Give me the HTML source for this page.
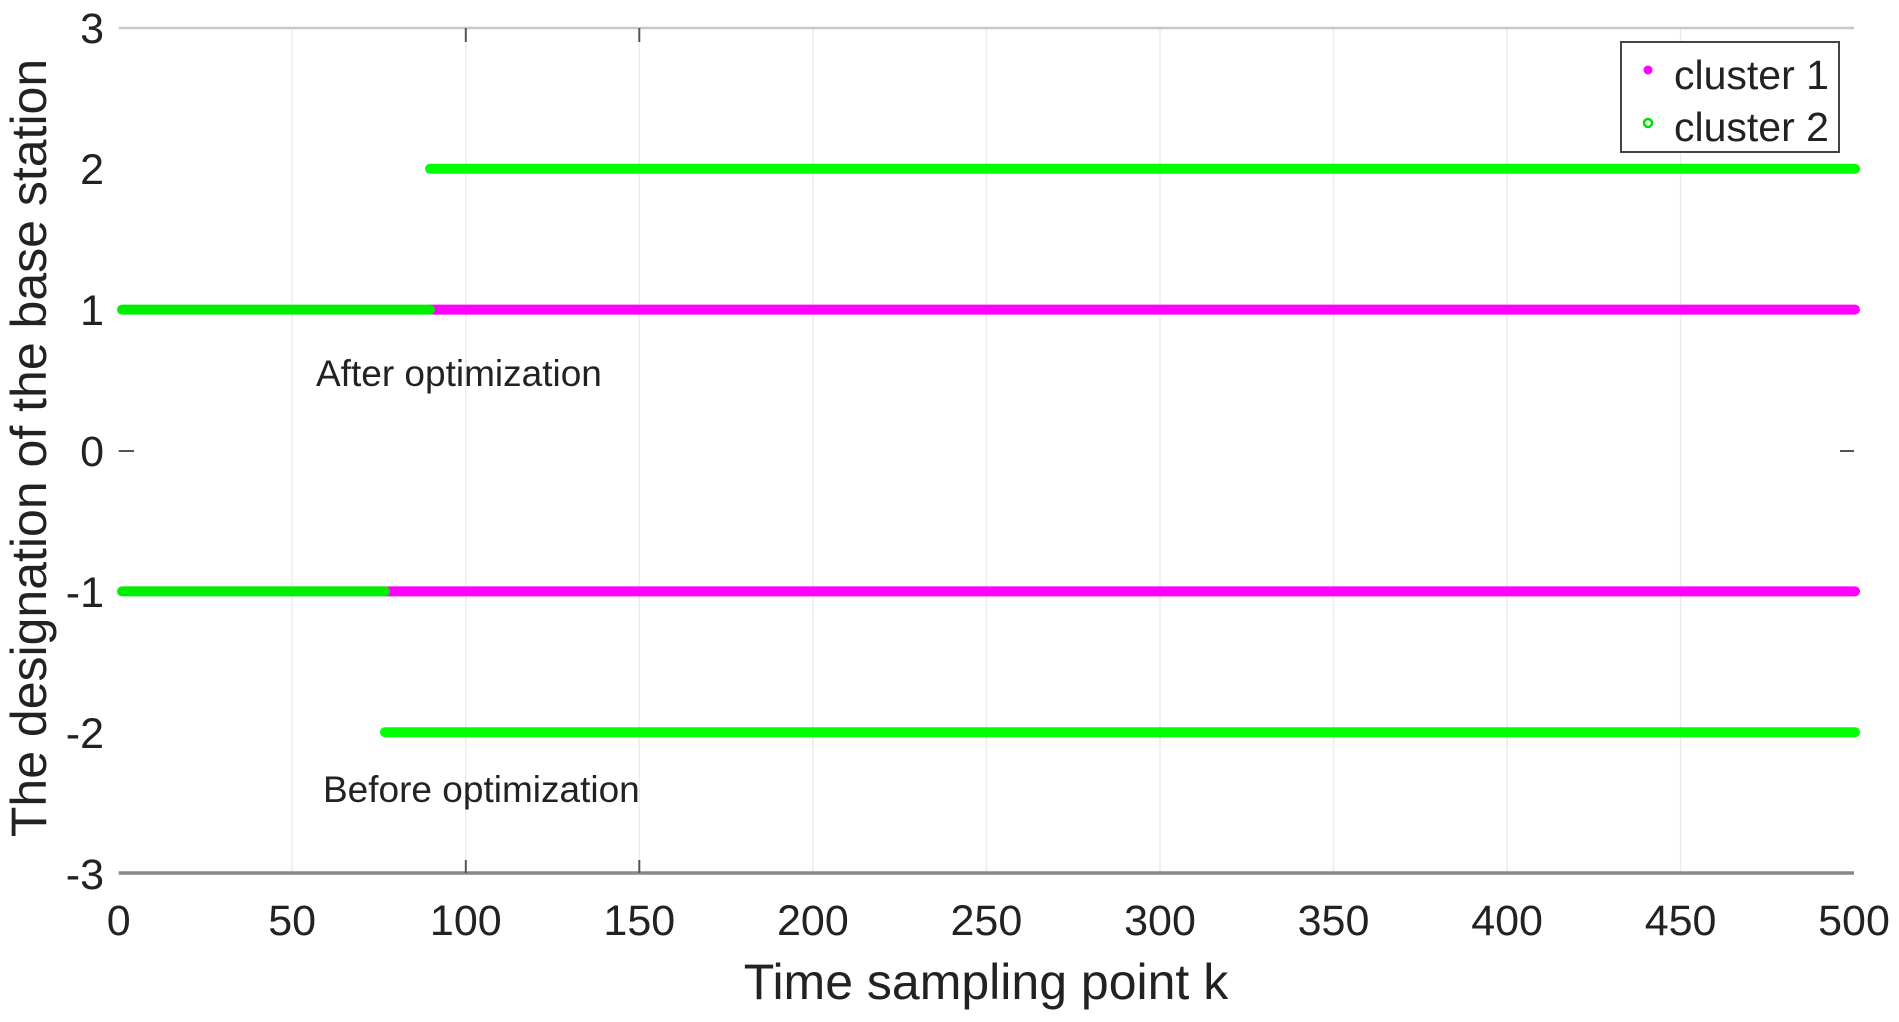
<!DOCTYPE html>
<html><head><style>body{margin:0;background:#fff}svg{display:block}</style></head>
<body>
<svg width="1899" height="1022" xmlns="http://www.w3.org/2000/svg" font-family="Liberation Sans, Arial, sans-serif">
<g stroke="#ebebeb" stroke-width="1.5">
<line x1="292.2" y1="28" x2="292.2" y2="873"/><line x1="465.8" y1="28" x2="465.8" y2="873"/><line x1="639.3" y1="28" x2="639.3" y2="873"/><line x1="812.9" y1="28" x2="812.9" y2="873"/><line x1="986.4" y1="28" x2="986.4" y2="873"/><line x1="1160" y1="28" x2="1160" y2="873"/><line x1="1333.5" y1="28" x2="1333.5" y2="873"/><line x1="1507.1" y1="28" x2="1507.1" y2="873"/><line x1="1680.6" y1="28" x2="1680.6" y2="873"/>
</g>
<line x1="118.7" y1="28" x2="1854" y2="28" stroke="#c8c8c8" stroke-width="2.5"/>
<line x1="118.7" y1="873" x2="1854" y2="873" stroke="#888" stroke-width="3.5"/>
<g stroke="#555" stroke-width="2">
<line x1="118.7" y1="451" x2="134" y2="451"/><line x1="1840" y1="451" x2="1854" y2="451"/>
<line x1="465.8" y1="860" x2="465.8" y2="873"/><line x1="639.3" y1="860" x2="639.3" y2="873"/>
<line x1="465.8" y1="28" x2="465.8" y2="42"/><line x1="639.3" y1="28" x2="639.3" y2="42"/>
</g>
<g stroke-width="10" stroke-linecap="round">
<line x1="430" y1="168.8" x2="1855" y2="168.8" stroke="#00ff00"/>
<line x1="430" y1="309.6" x2="1855" y2="309.6" stroke="#ff00ff"/>
<line x1="122" y1="309.6" x2="430" y2="309.6" stroke="#00ee00"/>
<line x1="385" y1="591.4" x2="1855" y2="591.4" stroke="#ff00ff"/>
<line x1="122" y1="591.4" x2="385" y2="591.4" stroke="#00ee00"/>
<line x1="385" y1="732.2" x2="1855" y2="732.2" stroke="#00ff00"/>
</g>
<g font-size="43" fill="#222" text-anchor="end">
<text x="104" y="43">3</text><text x="104" y="184">2</text><text x="104" y="325">1</text><text x="104" y="466">0</text><text x="104" y="607">-1</text><text x="104" y="748">-2</text><text x="104" y="889">-3</text>
</g>
<g font-size="43" fill="#222" text-anchor="middle">
<text x="118.7" y="935">0</text><text x="292.2" y="935">50</text><text x="465.8" y="935">100</text><text x="639.3" y="935">150</text><text x="812.9" y="935">200</text><text x="986.4" y="935">250</text><text x="1160" y="935">300</text><text x="1333.5" y="935">350</text><text x="1507.1" y="935">400</text><text x="1680.6" y="935">450</text><text x="1854" y="935">500</text>
</g>
<text x="986" y="999" font-size="50" fill="#222" text-anchor="middle">Time sampling point k</text>
<text transform="translate(46,448) rotate(-90)" font-size="50" fill="#222" text-anchor="middle">The designation of the base station</text>
<text x="316" y="386" font-size="37" fill="#222">After optimization</text>
<text x="323" y="802" font-size="37" fill="#222">Before optimization</text>
<rect x="1621" y="42" width="218" height="110" fill="#fff" stroke="#444" stroke-width="2"/>
<circle cx="1648" cy="70" r="4.5" fill="#ff00ff"/>
<circle cx="1648" cy="123" r="4" fill="none" stroke="#00dd00" stroke-width="2.5"/>
<text x="1674" y="89" font-size="41" fill="#222">cluster 1</text>
<text x="1674" y="141" font-size="41" fill="#222">cluster 2</text>
</svg>
</body></html>
